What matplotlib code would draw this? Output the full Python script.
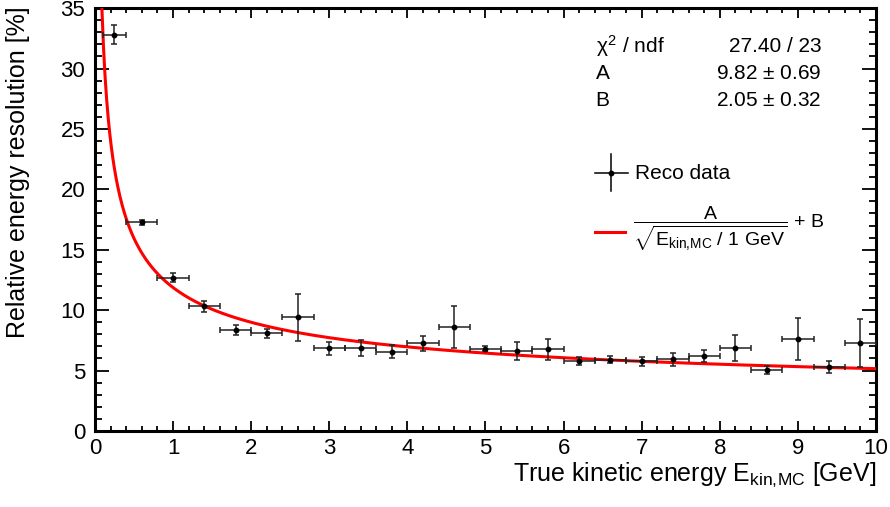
import numpy as np
import matplotlib
matplotlib.use("Agg")
from matplotlib import pyplot as plt
from matplotlib.ticker import MultipleLocator

plt.rcParams['font.family'] = ['Liberation Sans', 'DejaVu Sans']
plt.rcParams['mathtext.fontset'] = 'custom'
plt.rcParams['mathtext.rm'] = 'Liberation Sans'
plt.rcParams['mathtext.it'] = 'Liberation Sans'
plt.rcParams['mathtext.bf'] = 'Liberation Sans:bold'

# bins (centre, half width) and measured resolution
energy = [0.25, 0.6, 1.0, 1.4, 1.8, 2.2, 2.6, 3.0, 3.4, 3.8, 4.2, 4.6, 5.0,
          5.4, 5.8, 6.2, 6.6, 7.0, 7.4, 7.8, 8.2, 8.6, 9.0, 9.4, 9.8]
energy_err = [0.15] + [0.2] * 24
resolution = [32.8, 17.26, 12.69, 10.32, 8.37, 8.07, 9.41, 6.85, 6.88, 6.55,
              7.27, 8.59, 6.80, 6.61, 6.77, 5.75, 5.89, 5.78, 5.95, 6.19,
              6.85, 5.04, 7.62, 5.28, 7.29]
resolution_err = [0.8, 0.2, 0.4, 0.47, 0.41, 0.4, 1.94, 0.55, 0.66, 0.55,
                  0.62, 1.73, 0.2, 0.74, 0.88, 0.33, 0.3, 0.37, 0.54, 0.47,
                  1.09, 0.32, 1.76, 0.5, 2.0]

fit_A = 9.82
fit_B = 2.05

fig = plt.figure(figsize=(8.9, 5.07), dpi=100)
ax = fig.add_axes([0.1067, 0.150, 0.8776, 0.834])

e_fit = np.linspace(0.05, 10, 1000)
res_fit = fit_A / np.sqrt(e_fit) + fit_B
ax.plot(e_fit, res_fit, color='#ff0000', lw=2.2, zorder=3)

ax.errorbar(energy, resolution, xerr=energy_err, yerr=resolution_err,
            fmt='o', color='black', ecolor='#222222', ms=3.2,
            elinewidth=1.1, capsize=2, capthick=1.1, zorder=4)

ax.set_xlim(0, 10)
ax.set_ylim(0, 35)
ax.xaxis.set_major_locator(MultipleLocator(1))
ax.xaxis.set_minor_locator(MultipleLocator(0.2))
ax.yaxis.set_major_locator(MultipleLocator(5))
ax.yaxis.set_minor_locator(MultipleLocator(1))
ax.tick_params(which='both', direction='in', top=True, right=True,
               labelsize=16, width=1.3)
ax.tick_params(axis='x', which='major', length=7.5, pad=5)
ax.tick_params(axis='x', which='minor', length=3.8)
ax.tick_params(axis='y', which='major', length=10, pad=7)
ax.tick_params(axis='y', which='minor', length=5)
for s in ax.spines.values():
    s.set_linewidth(2.2)

sub = '$_{\\mathrm{kin,\\!MC}}$'
ax.set_xlabel('True kinetic energy E' + sub + ' [GeV]',
              fontsize=18, loc='right', labelpad=1)
ax.set_ylabel('Relative energy resolution [%]', fontsize=18, loc='top')
ax.yaxis.set_label_coords(-0.083, 1.005)

# fit statistics
stats = [('$\\chi^{2}$ / ndf', '27.40 / 23'),
         ('A', '9.82 $\\pm$ 0.69'),
         ('B', '2.05 $\\pm$ 0.32')]
for i, (name, val) in enumerate(stats):
    y = 0.910 - i * 0.064
    ax.text(0.641, y, name, transform=ax.transAxes, fontsize=15,
            va='center', ha='left')
    ax.text(0.930, y, val, transform=ax.transAxes, fontsize=15,
            va='center', ha='right')

# legend, drawn by hand in ROOT style
ax.plot([0.640, 0.682], [0.609, 0.609], color='black', lw=1.1,
        transform=ax.transAxes)
ax.plot([0.661, 0.661], [0.567, 0.656], color='black', lw=1.1,
        transform=ax.transAxes)
ax.plot([0.661], [0.609], 'o', color='black', ms=3.2, transform=ax.transAxes)
ax.text(0.691, 0.609, 'Reco data', transform=ax.transAxes, fontsize=15,
        va='center', ha='left')
ax.plot([0.640, 0.679], [0.471, 0.471], color='#ff0000', lw=2.2,
        transform=ax.transAxes)
ax.text(0.689, 0.477,
        '$\\dfrac{\\mathrm{A}}{\\sqrt{\\mathrm{E}_{\\mathrm{kin,\\!MC}}\\ /\\ 1\\ \\mathrm{GeV}}}$ + B',
        transform=ax.transAxes, fontsize=14, va='center', ha='left')

fig.savefig('out.png', dpi=100)
